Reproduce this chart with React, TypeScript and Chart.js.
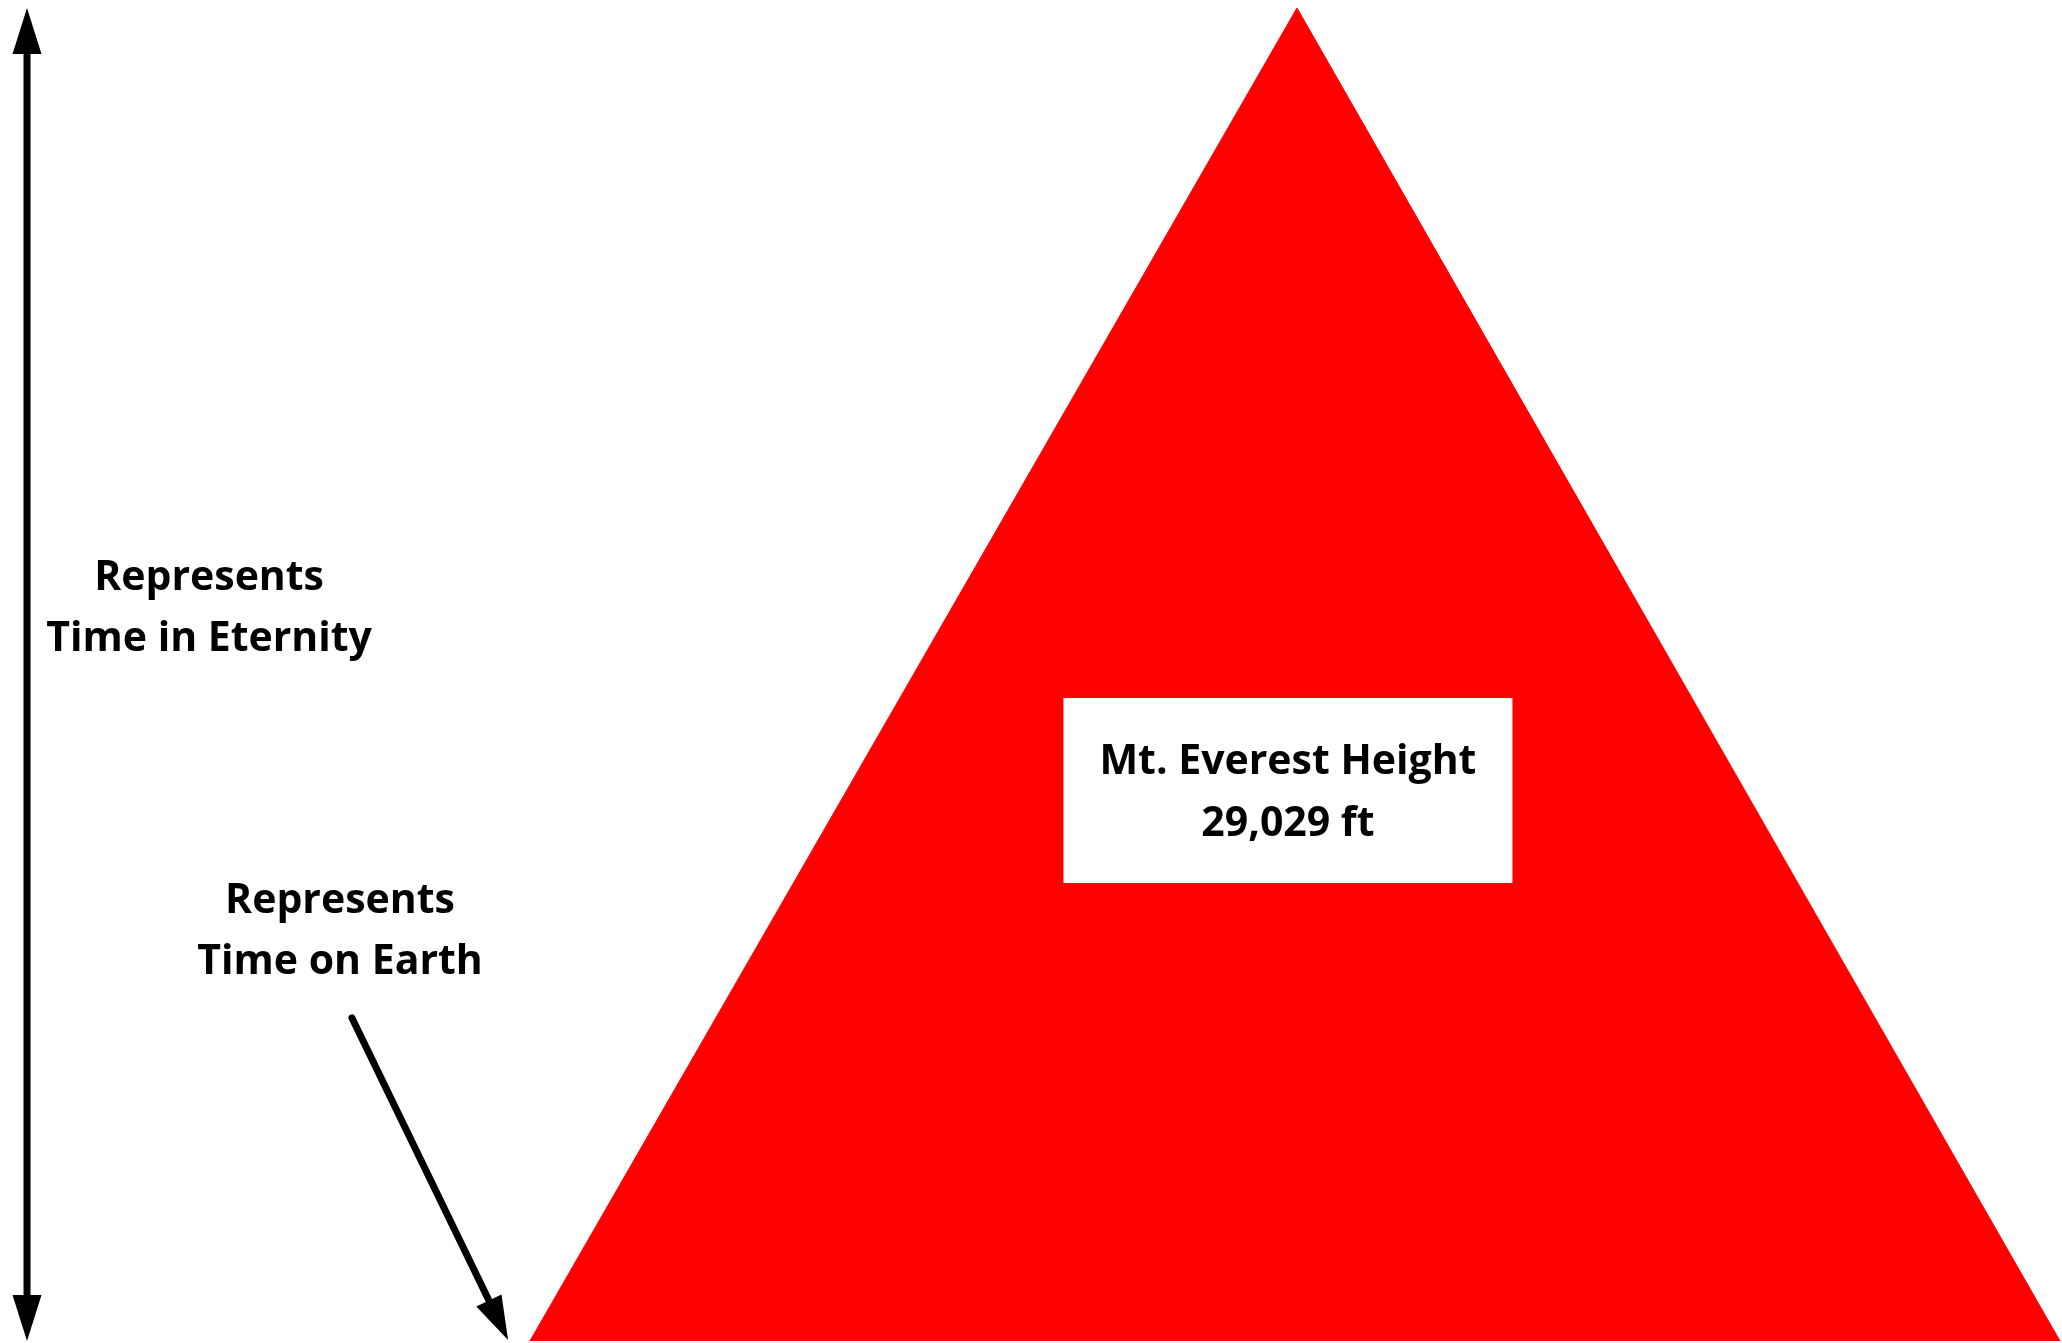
import React, { useEffect, useRef } from "react";
import { Chart, registerables } from "chart.js";

Chart.register(...registerables);

// Horizontal position (percent of width) and height in feet
const MOUNTAIN_X = [25.7, 62.9, 99.9];
const MOUNTAIN_HEIGHT_FT = [0, 29029, 0];
const ETERNITY_X = [1.31, 1.31];
const ETERNITY_Y = [0, 29029];
const EARTH_X = [17.07, 24.64];
const EARTH_Y = [7034, 20];
const LABEL_ETERNITY = ["Represents", "Time in Eternity"];
const LABEL_EARTH = ["Represents", "Time on Earth"];
const LABEL_EVEREST = ["Mt. Everest Height", "29,029 ft"];

const W = 2062;
const H = 1343;
const FONT = "bold 41px 'Open Sans', Lato, sans-serif";

function arrowHead(ctx: CanvasRenderingContext2D, fx: number, fy: number, tx: number, ty: number, L: number, Wd: number) {
  const dx = tx - fx;
  const dy = ty - fy;
  const len = Math.hypot(dx, dy);
  const ux = dx / len;
  const uy = dy / len;
  const bx = tx - ux * L;
  const by = ty - uy * L;
  const nx = -uy;
  const ny = ux;
  ctx.beginPath();
  ctx.moveTo(tx, ty);
  ctx.lineTo(bx + (nx * Wd) / 2, by + (ny * Wd) / 2);
  ctx.lineTo(bx - (nx * Wd) / 2, by - (ny * Wd) / 2);
  ctx.closePath();
  ctx.fill();
}

function shaft(ctx: CanvasRenderingContext2D, fx: number, fy: number, tx: number, ty: number, back: number, width: number) {
  const dx = tx - fx;
  const dy = ty - fy;
  const len = Math.hypot(dx, dy);
  const ux = dx / len;
  const uy = dy / len;
  ctx.beginPath();
  ctx.lineWidth = width;
  ctx.moveTo(fx, fy);
  ctx.lineTo(tx - ux * back, ty - uy * back);
  ctx.stroke();
}

const overlayPlugin = {
  id: "overlay",
  afterDatasetsDraw(chart: any) {
    const ctx: CanvasRenderingContext2D = chart.ctx;
    const xs = chart.scales.x;
    const ys = chart.scales.y;
    ctx.save();
    ctx.fillStyle = "#000";
    ctx.strokeStyle = "#000";
    ctx.lineCap = "butt";

    // Eternity double arrow
    const e = chart.getDatasetMeta(1).data;
    const e0 = e[0];
    const e1 = e[1];
    ctx.beginPath();
    ctx.lineWidth = 7;
    ctx.moveTo(e0.x, e0.y - 30);
    ctx.lineTo(e1.x, e1.y + 30);
    ctx.stroke();
    arrowHead(ctx, e1.x, e1.y, e0.x, e0.y, 46, 29);
    arrowHead(ctx, e0.x, e0.y, e1.x, e1.y, 46, 29);

    // Earth arrow
    const a = chart.getDatasetMeta(2).data;
    ctx.lineCap = "round";
    shaft(ctx, a[0].x, a[0].y, a[1].x, a[1].y, 30, 7);
    arrowHead(ctx, a[0].x, a[0].y, a[1].x, a[1].y, 44, 28);

    // Everest label box
    const bx = xs.getPixelForValue(62.46);
    const by = ys.getPixelForValue(11988);
    ctx.fillStyle = "#fff";
    ctx.fillRect(bx - 224.5, by - 92.5, 449, 185);

    ctx.fillStyle = "#000";
    ctx.font = FONT;
    ctx.textAlign = "center";
    ctx.textBaseline = "alphabetic";
    ctx.fillText(LABEL_EVEREST[0], bx, by - 17);
    ctx.fillText(LABEL_EVEREST[1], bx, by + 45);

    const lx = xs.getPixelForValue(10.14);
    const ly = ys.getPixelForValue(16355);
    ctx.fillText(LABEL_ETERNITY[0], lx, ly);
    ctx.fillText(LABEL_ETERNITY[1], lx, ly + 61);

    const ex = xs.getPixelForValue(16.49);
    const ey = ys.getPixelForValue(9330);
    ctx.fillText(LABEL_EARTH[0], ex, ey);
    ctx.fillText(LABEL_EARTH[1], ex, ey + 61);
    ctx.restore();
  },
};

export default function App() {
  const ref = useRef<HTMLCanvasElement | null>(null);
  useEffect(() => {
    if (!ref.current) return;
    const chart = new Chart(ref.current, {
      type: "line",
      data: {
        datasets: [
          {
            label: "Mt. Everest",
            data: MOUNTAIN_X.map((x, i) => ({ x, y: MOUNTAIN_HEIGHT_FT[i] })),
            borderColor: "#ff0000",
            backgroundColor: "#ff0000",
            borderWidth: 1,
            fill: "origin",
            pointRadius: 0,
            tension: 0,
          },
          {
            label: "Time in Eternity",
            data: ETERNITY_X.map((x, i) => ({ x, y: ETERNITY_Y[i] })),
            showLine: false,
            pointRadius: 0,
          },
          {
            label: "Time on Earth",
            data: EARTH_X.map((x, i) => ({ x, y: EARTH_Y[i] })),
            showLine: false,
            pointRadius: 0,
          },
        ],
      },
      options: {
        animation: false,
        responsive: false,
        maintainAspectRatio: false,
        devicePixelRatio: 1,
        layout: { padding: { top: 8, bottom: 2, left: 0, right: 0 } },
        plugins: { legend: { display: false }, tooltip: { enabled: false } },
        scales: {
          x: { type: "linear", min: 0, max: 100, display: false },
          y: { type: "linear", min: 0, max: 29029, display: false },
        },
      },
      plugins: [overlayPlugin],
    });
    return () => chart.destroy();
  }, []);
  return (
    <div style={{ position: "fixed", left: 0, top: 0, width: W, height: H, background: "#fff" }}>
      <canvas ref={ref} width={W} height={H} style={{ width: W, height: H, display: "block" }} />
    </div>
  );
}
